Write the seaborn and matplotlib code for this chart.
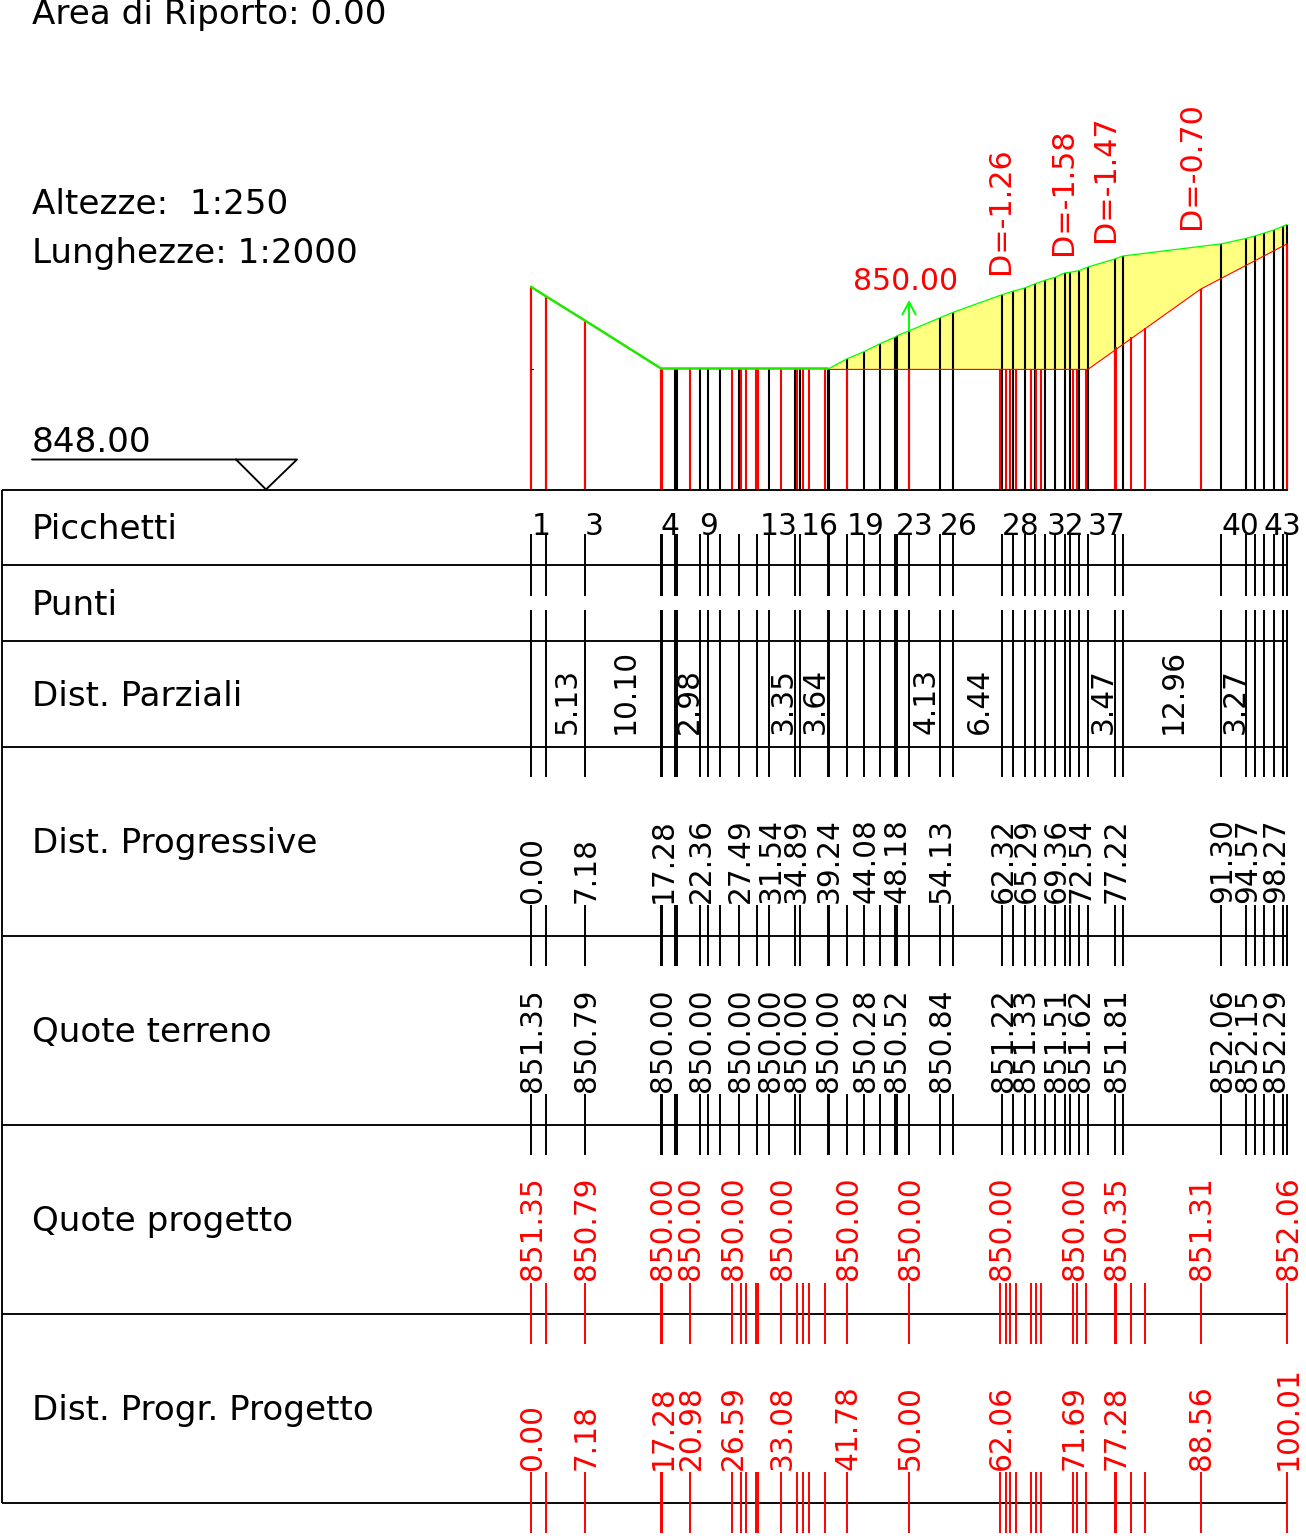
import matplotlib
matplotlib.use("Agg")
import matplotlib.pyplot as plt
import numpy as np
import seaborn as sns

# --- dati del profilo (metri / quote) ---
sezioni_dist = [0.00, 2.02, 7.18, 17.20, 17.38, 19.05, 19.30, 22.36, 23.41, 24.96, 27.49, 29.93,
                31.54, 34.89, 35.58, 39.24, 39.42, 41.80, 44.08, 46.16, 48.18, 48.38, 49.96,
                54.13, 55.86, 62.32, 63.80, 65.29, 66.67, 68.03, 69.36, 70.60, 71.30, 72.54,
                73.72, 77.22, 78.30, 91.30, 94.57, 95.73, 97.00, 98.27, 99.43, 99.96]
sezioni_quota = [851.35, 851.19, 850.79, 850.00, 850.00, 850.00, 850.00, 850.00, 850.00, 850.00,
                 850.00, 850.00, 850.00, 850.00, 850.00, 850.00, 850.00, 850.16, 850.28, 850.41,
                 850.52, 850.54, 850.62, 850.84, 850.93, 851.22, 851.28, 851.33, 851.40, 851.46,
                 851.51, 851.58, 851.59, 851.62, 851.68, 851.81, 851.86, 852.06, 852.15, 852.19,
                 852.24, 852.29, 852.35, 852.38]

progetto_dist = [0.00, 2.02, 7.18, 17.22, 17.36, 20.98, 26.59, 27.78, 28.44, 29.76, 30.07, 33.08,
                 35.16, 35.98, 36.77, 38.93, 41.78, 50.00, 62.06, 62.80, 63.40, 64.15, 66.14,
                 66.80, 67.46, 71.69, 72.18, 73.37, 77.22, 77.44, 79.37, 81.20, 88.56, 100.01]
progetto_quota = [851.35, 851.19, 850.79, 850.00, 850.00, 850.00, 850.00, 850.00, 850.00, 850.00,
                  850.00, 850.00, 850.00, 850.00, 850.00, 850.00, 850.00, 850.00, 850.00, 850.00,
                  850.00, 850.00, 850.00, 850.00, 850.00, 850.00, 850.00, 850.00, 850.33, 850.36,
                  850.52, 850.67, 851.31, 852.06]

# linea di progetto dove si stacca dal terreno
scavo_dist = [39.24, 73.67, 88.56, 100.01]
scavo_quota = [849.985, 849.985, 851.31, 852.06]

# --- etichette delle righe ---
picchetti_nomi = ["1", "3", "4", "9", "13", "16", "19", "23", "26", "28", "32", "37", "40", "43"]
picchetti_dist = [0.05, 7.12, 17.15, 22.25, 30.20, 35.62, 41.80, 48.30, 54.10, 62.30, 68.15, 73.68, 91.30, 96.88]

parziali_val = ["5.13", "10.10", "2.98", "3.35", "3.64", "4.13", "6.44", "3.47", "12.96", "3.27"]
parziali_dist = [4.60, 12.23, 20.80, 33.20, 37.48, 52.10, 59.08, 75.47, 84.80, 92.93]

progressive = [0.00, 7.18, 17.28, 22.36, 27.49, 31.54, 34.89, 39.24, 44.08, 48.18, 54.13, 62.32,
               65.29, 69.36, 72.54, 77.22, 91.30, 94.57, 98.27]
quote_terreno = [851.35, 850.79, 850.00, 850.00, 850.00, 850.00, 850.00, 850.00, 850.28, 850.52,
                 850.84, 851.22, 851.33, 851.51, 851.62, 851.81, 852.06, 852.15, 852.29]
quote_progetto = [851.35, 850.79, 850.00, 850.00, 850.00, 850.00, 850.00, 850.00, 850.00, 850.00,
                  850.35, 851.31, 852.06]
progr_progetto = [0.00, 7.18, 17.28, 20.98, 26.59, 33.08, 41.78, 50.00, 62.06, 71.69, 77.28, 88.56, 100.01]

dislivelli = ["D=-1.26", "D=-1.58", "D=-1.47", "D=-0.70"]
dislivelli_dist = [62.10, 70.46, 75.96, 87.32]

righe_nomi = ["Picchetti", "Punti", "Dist. Parziali", "Dist. Progressive", "Quote terreno",
              "Quote progetto", "Dist. Progr. Progetto"]

# --- impaginazione, in pixel ---
W, H = 1306, 1539
PX_M = 7.56
PX_Q = 60.5
X0 = 531
Y850 = 368.5
righe_y = [489.5, 565, 640.5, 746.5, 935.5, 1124.5, 1313.5, 1502.5]
righe_base = [539, 615, 706, 853, 1042, 1231, 1420]
FS = 21.3      # testi verticali
FS_D = 21.7    # dislivelli
FS_L = 24.6    # testi a sinistra
DX_V = 1.3 / PX_M   # i testi verticali stanno poco a destra della tacca
ROSSO = "#ff0000"

sns.set_theme(style="white")
plt.rcParams["font.family"] = ["DejaVu Sans"]

fig = plt.figure(figsize=(W / 100, H / 100), dpi=100, facecolor="white")
xlim = (-X0 / PX_M, (W - X0) / PX_M)

# assi del profilo: metri / quote
ax_p = fig.add_axes([0, 0, 1, 1])
# assi della tabella: metri / pixel verticali
ax_t = fig.add_axes([0, 0, 1, 1], sharex=ax_p)
ax_t.patch.set_alpha(0)

# riempimento di scavo
poly_x = [d for d, q in zip(sezioni_dist, sezioni_quota) if d >= 39.24] + scavo_dist[::-1]
poly_y = [q for d, q in zip(sezioni_dist, sezioni_quota) if d >= 39.24] + scavo_quota[::-1]
ax_p.fill(poly_x, poly_y, color="#ffff80", lw=0, zorder=1)

# verticali del profilo
ax_p.vlines(sezioni_dist, 848, sezioni_quota, color="black", lw=1.5, zorder=2)
ax_p.vlines(progetto_dist, 848, progetto_quota, color=ROSSO, lw=1.5, zorder=3)

# terreno e progetto
sns.lineplot(x=scavo_dist, y=scavo_quota, ax=ax_p, color=ROSSO, linewidth=0.8,
             estimator=None, sort=False, zorder=4)
sns.lineplot(x=sezioni_dist, y=sezioni_quota, ax=ax_p, color="#00ff00", linewidth=0.9,
             estimator=None, sort=False, zorder=5)
tratto = [i for i, d in enumerate(sezioni_dist) if d <= 39.24]
sns.lineplot(x=[sezioni_dist[i] for i in tratto], y=[sezioni_quota[i] for i in tratto], ax=ax_p,
             color="#22e600", linewidth=1.8, estimator=None, sort=False, zorder=5)

ax_p.set_xlim(xlim)
ax_p.set_ylim(850 - (H - Y850) / PX_Q, 850 + Y850 / PX_Q)
ax_p.axis("off")

ax_t.set_ylim(H, 0)
ax_t.axis("off")
fine = (1287.5 - X0) / PX_M

# griglia della tabella
ax_t.hlines(righe_y, -X0 / PX_M + 1.5 / PX_M, fine, color="black", lw=1.35)
ax_t.vlines(-X0 / PX_M + 2 / PX_M, righe_y[0], righe_y[-1], color="black", lw=1.35)

# tacche delle righe
for y0, y1 in [(534, 596), (610, 777), (905, 966), (1094, 1155)]:
    ax_t.vlines(sezioni_dist, y0, y1, color="black", lw=1.4)
for y0, y1 in [(1283, 1344), (1472, 1533)]:
    ax_t.vlines(progetto_dist, y0, y1, color=ROSSO, lw=1.4)

# testi a sinistra
sx = (32 - X0) / PX_M
for nome, base in zip(righe_nomi, righe_base):
    ax_t.text(sx, base, nome, fontsize=FS_L, color="black", va="baseline", ha="left")
ax_t.text(sx, 24, "Area di Riporto: 0.00", fontsize=FS_L, va="baseline", ha="left", color="black")
ax_t.text(sx, 214, "Altezze:  1:250", fontsize=FS_L, va="baseline", ha="left", color="black")
ax_t.text(sx, 263, "Lunghezze: 1:2000", fontsize=FS_L, va="baseline", ha="left", color="black")
ax_t.text(sx, 452, "848.00", fontsize=FS_L, va="baseline", ha="left", color="black")

# simbolo quota di riferimento
tri_x = (np.array([32, 297, 266, 236]) - X0) / PX_M
tri_y = [459.5, 459.5, 489.5, 459.5]
ax_t.plot(tri_x, tri_y, color="black", lw=1.35)

# piccola tacca sulla prima verticale
ax_t.plot([0.05, 0.3], [368.5, 368.5], color="black", lw=0.8)

# picchetti
for nome, d in zip(picchetti_nomi, picchetti_dist):
    ax_t.text(d, 535, nome, fontsize=FS, ha="left", va="baseline", color="black")

# valori verticali
for v, d in zip(parziali_val, parziali_dist):
    ax_t.text(d + DX_V, 733.5, v, rotation=90, fontsize=FS, ha="center", va="bottom", color="black")
for v in progressive:
    ax_t.text(v + DX_V, 903, f"{v:.2f}", rotation=90, fontsize=FS, ha="center", va="bottom", color="black")
for d, q in zip(progressive, quote_terreno):
    ax_t.text(d + DX_V, 1092, f"{q:.2f}", rotation=90, fontsize=FS, ha="center", va="bottom", color="black")
for d, q in zip(progr_progetto, quote_progetto):
    ax_t.text(d + DX_V, 1280.5, f"{q:.2f}", rotation=90, fontsize=FS, ha="center", va="bottom", color=ROSSO)
for v in progr_progetto:
    ax_t.text(v + DX_V, 1470, f"{v:.2f}", rotation=90, fontsize=FS, ha="center", va="bottom", color=ROSSO)

# dislivelli e quota di progetto
for t, d, y in zip(dislivelli, dislivelli_dist, [274, 255, 241.5, 229]):
    ax_t.text(d, y, t, rotation=90, fontsize=FS_D, ha="center", va="bottom", color=ROSSO)
ax_t.text(49.6, 290, "850.00", fontsize=21.6, ha="center", va="baseline", color=ROSSO)
ax_t.annotate("", xy=(50.0, 300), xytext=(50.0, 331),
              arrowprops=dict(arrowstyle="->,head_length=0.75,head_width=0.4", color="#00ff00", lw=1.4,
                              shrinkA=0, shrinkB=0))
ax_t.set_xlim(xlim)

fig.savefig("out.png", dpi=100, facecolor="white")
